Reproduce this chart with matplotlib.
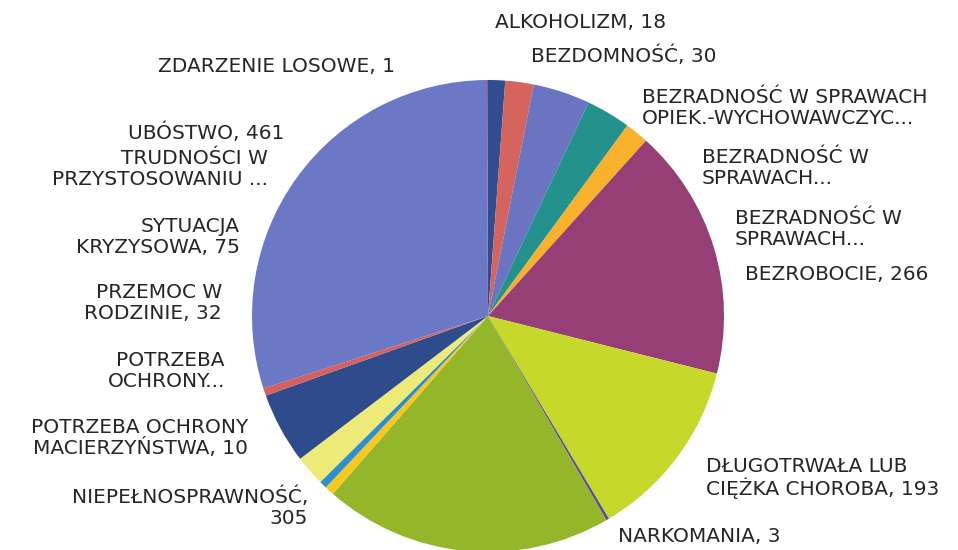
import matplotlib
matplotlib.use('Agg')
import matplotlib.pyplot as plt

labels = [
    'ALKOHOLIZM, 18',
    'BEZDOMNOŚĆ, 30',
    'BEZRADNOŚĆ W SPRAWACH\nOPIEK.-WYCHOWAWCZYC...',
    'BEZRADNOŚĆ W\nSPRAWACH...',
    'BEZRADNOŚĆ W\nSPRAWACH...',
    'BEZROBOCIE, 266',
    'DŁUGOTRWAŁA LUB\nCIĘŻKA CHOROBA, 193',
    'NARKOMANIA, 3',
    'NIEPEŁNOSPRAWNOŚĆ,\n305',
    'POTRZEBA OCHRONY\nMACIERZYŃSTWA, 10',
    'POTRZEBA\nOCHRONY...',
    'PRZEMOC W\nRODZINIE, 32',
    'SYTUACJA\nKRYZYSOWA, 75',
    'TRUDNOŚCI W\nPRZYSTOSOWANIU ...',
    'UBÓSTWO, 461',
    'ZDARZENIE LOSOWE, 1',
]
# values shown in labels, truncated ones
values = [18, 30, 60, 47, 25, 266, 193, 3, 305, 10, 8, 32, 75, 8, 461, 1]
colors = ['#2f4d8f', '#d5645e', '#6a74c0', '#23918c', '#f9b12c', '#963e76',
          '#c6d82a', '#5a4a9c', '#93b62a', '#f8c81e', '#2b8fd0', '#eeea78',
          '#2e4b8c', '#d6605e', '#6b78c6', '#9a4a7a']

# label anchor positions in image pixels (x, y from top) and alignment
label_pos = [(495, 23, 'left'), (531, 56, 'left'), (642, 108, 'left'),
             (702, 168, 'left'), (735, 229, 'left'), (745, 275, 'left'),
             (706, 478, 'left'), (618, 537, 'left'), (308, 507, 'right'),
             (248, 438, 'right'), (225, 371, 'right'), (222, 303, 'right'),
             (240, 237, 'right'), (268, 169, 'right'), (284, 133, 'right'),
             (395, 66, 'right')]

W, H = 958, 550
cx, cy, r = 488, 316, 236

fig = plt.figure(figsize=(W / 100, H / 100), dpi=100)
fig.patch.set_facecolor('white')
ax = fig.add_axes([(cx - r) / W, (H - cy - r) / H, 2 * r / W, 2 * r / H])
ax.pie(values, colors=colors, startangle=90, counterclock=False, radius=1,
       wedgeprops=dict(linewidth=0))
ax.set_xlim(-1, 1)
ax.set_ylim(-1, 1)
ax.set_aspect('equal')
ax.axis('off')

for text, (lx, ly, ha) in zip(labels, label_pos):
    fig.text(lx / W, 1 - ly / H, text, ha=ha, va='center', fontsize=14.5,
             color='#262626', multialignment=ha, linespacing=1.1,
             family='DejaVu Sans')

fig.savefig('out.png', dpi=100, facecolor='white')
